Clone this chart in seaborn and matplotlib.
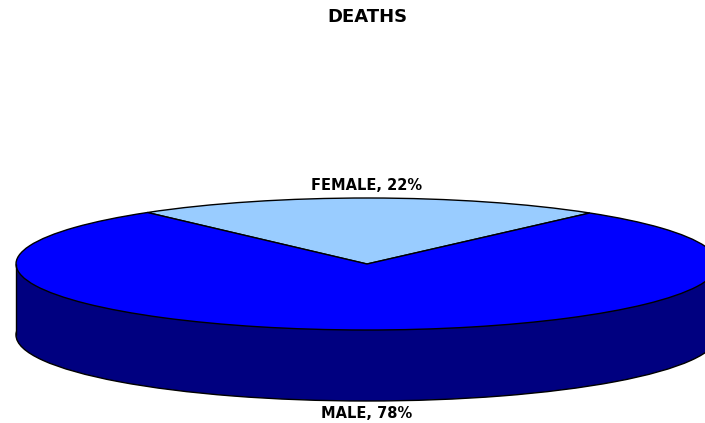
import numpy as np
import seaborn as sns
from matplotlib import pyplot as plt

labels = ["FEMALE, 22%", "MALE, 78%"]
shares = [21.7, 78.3]
top_colors = ["#99CCFF", "#0000FF"]
side_color = "#000080"

sns.set_theme(style="white")
plt.rcParams["font.family"] = ["DejaVu Sans"]

W, H = 705, 423
CX, CY = 367, 264
RX, RY = 351, 66
DEPTH = 71

fig = plt.figure(figsize=(W / 100, H / 100), dpi=100)
ax = fig.add_axes([0, 0, 1, 1])

# side wall: a lower pie plus a band that joins it to the top face
ax.pie([1], colors=[side_color], center=(0, -DEPTH / RY), radius=1,
       startangle=0, wedgeprops={"edgecolor": "black", "linewidth": 1.0})
ax.bar(0, DEPTH / RY, width=2, bottom=-DEPTH / RY, color=side_color, linewidth=0)
ax.vlines([-1, 1], -DEPTH / RY, 0, color="black", linewidth=1.0)

# top face
ax.pie(shares, colors=top_colors, startangle=50.6, radius=1,
       wedgeprops={"edgecolor": "black", "linewidth": 1.0})

ax.set_aspect("auto")
ax.set_xlim(-CX / RX, (W - CX) / RX)
ax.set_ylim((CY - H) / RY, CY / RY)
ax.axis("off")

fig.text(367 / W, 1 - 17 / H, "DEATHS", ha="center", va="center",
         fontsize=13, fontweight="bold", color="black")
fig.text(367 / W, 1 - 186 / H, labels[0], ha="center", va="center",
         fontsize=10.5, fontweight="bold", color="black")
fig.text(367 / W, 1 - 413 / H, labels[1], ha="center", va="center",
         fontsize=10.5, fontweight="bold", color="black")

fig.savefig("out.png", dpi=100, facecolor="white")
